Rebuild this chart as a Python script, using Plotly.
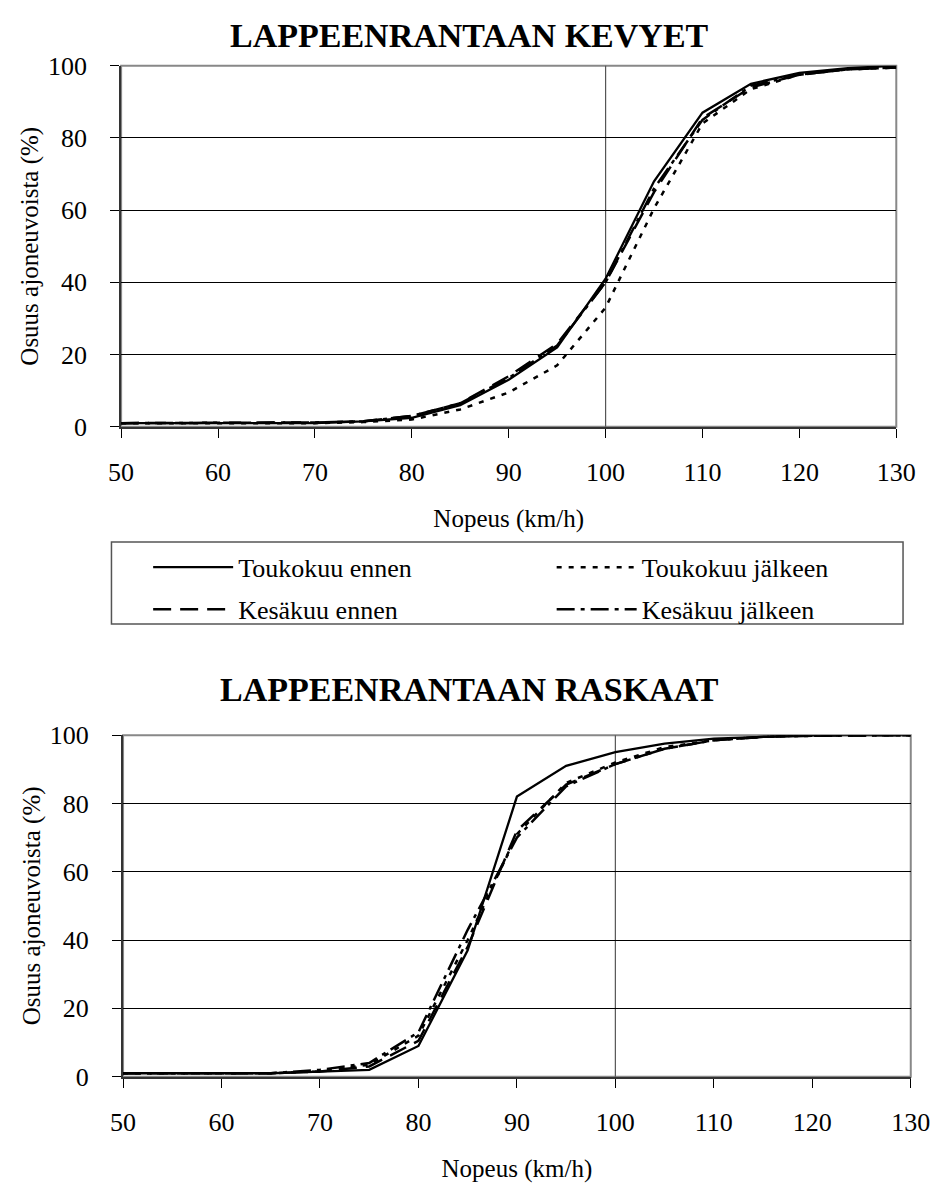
import plotly.graph_objects as go

W, H = 952, 1199

# ---------------- data ----------------
speed = [50, 55, 60, 65, 70, 75, 80, 85, 90, 95, 100, 105, 110, 115, 120, 125, 130]

series_names = ["Toukokuu ennen", "Toukokuu jälkeen", "Kesäkuu ennen", "Kesäkuu jälkeen"]

# LAPPEENRANTAAN KEVYET
kevyet_touko_ennen = [1, 1, 1, 1, 1, 1.5, 2.5, 6, 13, 22, 41, 68, 87, 95, 98, 99.3, 100]
kevyet_touko_jalkeen = [1, 1, 1, 1, 1, 1.3, 2, 4.8, 9.5, 17, 33, 60.5, 84, 93.5, 97.5, 99, 99.5]
kevyet_kesa_ennen = [1, 1, 1, 1, 1.2, 1.5, 3, 6.5, 14, 23, 40, 65, 85.5, 94, 97.5, 99, 99.5]
kevyet_kesa_jalkeen = [1, 1, 1, 1, 1.2, 1.5, 3, 6.5, 13.5, 22.5, 40, 66, 85, 94.5, 97.5, 99, 99.5]

# LAPPEENRANTAAN RASKAAT
raskaat_touko_ennen = [1, 1, 1, 1, 1.5, 2, 9, 37, 82, 91, 95, 97.5, 99, 99.5, 100, 100, 100]
raskaat_touko_jalkeen = [1, 1, 1, 1, 1.5, 3.5, 12, 40, 71, 86, 92, 96.5, 98.5, 99.5, 100, 100, 100]
raskaat_kesa_ennen = [1, 1, 1, 1, 1.5, 3, 10.5, 38, 72, 85.5, 91.5, 96, 98.5, 99.5, 99.8, 100, 100]
raskaat_kesa_jalkeen = [1, 1, 1, 1, 2, 4, 13, 43, 70, 85, 91.5, 96, 98.5, 99.5, 99.8, 100, 100]

titles = ["LAPPEENRANTAAN KEVYET", "LAPPEENRANTAAN RASKAAT"]
x_title = "Nopeus (km/h)"
y_title = "Osuus ajoneuvoista (%)"
x_ticks = [50, 60, 70, 80, 90, 100, 110, 120, 130]
y_ticks = [0, 20, 40, 60, 80, 100]

# ---------------- styling ----------------
FONT = "Liberation Serif"
dashes = ["solid", "5px,7px", "18px,9px", "18px,6px,4px,6px"]
widths = [2.3, 2.5, 2.5, 2.5]
legend_ids = ["legend", "legend2", "legend3", "legend4"]


def px_x(p):
    return p / W


def px_y(p):
    return 1 - p / H


fig = go.Figure()

top_data = [kevyet_touko_ennen, kevyet_touko_jalkeen, kevyet_kesa_ennen, kevyet_kesa_jalkeen]
bot_data = [raskaat_touko_ennen, raskaat_touko_jalkeen, raskaat_kesa_ennen, raskaat_kesa_jalkeen]

for i, (name, ys) in enumerate(zip(series_names, top_data)):
    fig.add_trace(go.Scatter(
        x=speed, y=ys, mode="lines", name=name,
        line=dict(color="black", width=widths[i], dash=dashes[i]),
        xaxis="x", yaxis="y", legend=legend_ids[i], showlegend=True,
    ))
for i, (name, ys) in enumerate(zip(series_names, bot_data)):
    fig.add_trace(go.Scatter(
        x=speed, y=ys, mode="lines", name=name,
        line=dict(color="black", width=widths[i], dash=dashes[i]),
        xaxis="x2", yaxis="y2", showlegend=False,
    ))

xa = dict(range=[50, 130], tickvals=x_ticks, ticks="outside", ticklen=9, tickwidth=1,
          tickcolor="black", showgrid=False, zeroline=False, showline=True,
          linecolor="#333", linewidth=2,
          tickfont=dict(family=FONT, size=26, color="black"), ticklabelstandoff=12,
          title=dict(text=x_title, font=dict(family=FONT, size=25, color="black"), standoff=24))
ya = dict(range=[0, 100], tickvals=y_ticks, ticks="outside", ticklen=9, tickwidth=1,
          tickcolor="black", showgrid=True, gridcolor="black", gridwidth=1, zeroline=False,
          showline=True, linecolor="#333", linewidth=2,
          tickfont=dict(family=FONT, size=26, color="black"), ticklabelstandoff=18,
          title=dict(text=y_title, font=dict(family=FONT, size=25, color="black"), standoff=2))

layout = dict(
    width=W, height=H, margin=dict(l=0, r=0, t=0, b=0),
    paper_bgcolor="white", plot_bgcolor="white",
    font=dict(family=FONT, color="black"),
    xaxis=dict(xa, domain=[px_x(112), px_x(915)], anchor="y"),
    yaxis=dict(ya, domain=[px_y(423), px_y(53)], anchor="x"),
    xaxis2=dict(xa, domain=[px_x(114), px_x(930)], anchor="y2"),
    yaxis2=dict(ya, domain=[px_y(1089), px_y(739)], anchor="x2"),
)

# legends (one per entry, laid out in a 2x2 grid inside a box)
leg_pos = [(140, 567), (558, 567), (140, 610), (558, 610)]
for lid, (lx, ly) in zip(legend_ids, leg_pos):
    layout[lid] = dict(x=px_x(lx), y=px_y(ly), xanchor="left", yanchor="middle",
                       bgcolor="rgba(0,0,0,0)", borderwidth=0, itemwidth=80,
                       font=dict(family=FONT, size=26, color="black"))

fig.update_layout(**layout)

# legend frame
fig.add_shape(type="rect", xref="paper", yref="paper",
              x0=px_x(102), x1=px_x(922), y0=px_y(625), y1=px_y(541),
              line=dict(color="#555", width=1.5), fillcolor="rgba(0,0,0,0)")

# plot-area frames and the vertical reference line at 100 km/h
for xr, yr in [("x", "y"), ("x2", "y2")]:
    fig.add_shape(type="rect", xref=f"{xr} domain", yref=f"{yr} domain",
                  x0=0, x1=1, y0=0, y1=1, line=dict(color="#888", width=2), layer="below")
    fig.add_shape(type="line", xref=xr, yref=f"{yr} domain", x0=100, x1=100, y0=0, y1=1,
                  line=dict(color="#555", width=1.2), layer="below")

# chart titles
for t, yc in zip(titles, [22, 692]):
    fig.add_annotation(text=f"<b>{t}</b>", xref="paper", yref="paper", x=0.497, y=px_y(yc),
                       xanchor="center", yanchor="middle", showarrow=False,
                       font=dict(family=FONT, size=34, color="black"))

fig.write_html("out.html")
